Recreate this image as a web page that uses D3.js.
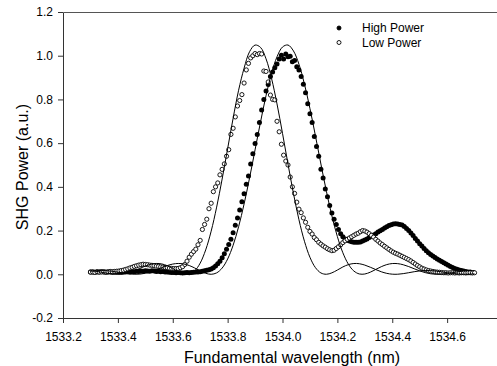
<!DOCTYPE html>
<html>
<head>
<meta charset="utf-8">
<script src="https://cdn.jsdelivr.net/npm/d3@7"></script>
<style>
  body { margin: 0; background: #fff; }
  svg text { font-family: "Liberation Sans", Arial, sans-serif; fill: #000; }
</style>
</head>
<body>
<div id="chart"></div>
<script>
// measured scan: 1533.300 nm onward, 0.008 nm per point
const scanStart = 1533.30, scanStep = 0.008;
// fitted curves sampled every 0.02 nm from 1533.30
const fitStart = 1533.30, fitStep = 0.02;

const highPower = [
  .011,.010,.009,.011,.010,.012,.010,.009,.011,.010,
  .009,.010,.011,.010,.009,.011,.010,.012,.011,.013,
  .012,.014,.013,.015,.014,.016,.015,.014,.016,.015,
  .013,.014,.012,.013,.011,.010,.009,.008,.008,.007,
  .008,.007,.006,.007,.008,.007,.008,.009,.010,.011,
  .012,.014,.016,.018,.021,.024,.030,.038,.048,.060,
  .076,.094,.114,.136,.160,.190,.224,.257,.294,.332,
  .368,.412,.450,.505,.552,.598,.640,.695,.752,.800,
  .838,.868,.905,.925,.945,.962,.985,1.002,.985,1.008,
  .995,.998,.972,.978,.950,.935,.905,.870,.830,.780,
  .735,.695,.630,.585,.540,.480,.440,.390,.355,.315,
  .280,.252,.228,.205,.185,.172,.162,.156,.152,.149,
  .147,.146,.146,.148,.152,.157,.162,.168,.174,.180,
  .186,.193,.199,.205,.212,.218,.223,.227,.230,.231,
  .230,.228,.225,.219,.210,.200,.189,.177,.164,.152,
  .140,.129,.118,.108,.099,.091,.084,.077,.070,.064,
  .058,.053,.047,.041,.036,.031,.027,.023,.020,.017,
  .015,.013,.011,.010
];

const lowPower = [
  .010,.011,.009,.012,.010,.011,.012,.010,.011,.013,
  .012,.013,.014,.015,.017,.019,.022,.025,.029,.032,
  .036,.039,.042,.044,.046,.045,.044,.042,.041,.039,
  .037,.036,.034,.033,.031,.030,.028,.027,.026,.026,
  .027,.030,.035,.045,.060,.078,.092,.104,.115,.135,
  .155,.205,.228,.252,.300,.325,.378,.400,.418,.455,
  .480,.505,.540,.570,.640,.668,.720,.770,.795,.822,
  .875,.935,.965,.990,1.000,1.010,1.005,1.010,1.008,.930,
  .928,.880,.820,.800,.798,.700,.652,.595,.545,.518,
  .500,.445,.400,.370,.330,.298,.282,.258,.238,.215,
  .196,.184,.168,.158,.146,.138,.130,.124,.117,.112,
  .108,.110,.118,.126,.135,.145,.153,.160,.166,.172,
  .178,.184,.188,.195,.200,.198,.193,.186,.178,.170,
  .160,.152,.143,.136,.128,.121,.114,.107,.101,.096,
  .092,.087,.082,.077,.072,.067,.061,.054,.047,.040,
  .034,.028,.024,.020,.017,.015,.013,.011,.010,.009,
  .008,.007,.007,.006,.007,.007,.006,.007,.006,.007,
  .007,.006,.007,.007,.006,.007
];

const lowFit = [
  .0165,.0137,.0095,.0050,.0013,.0000,.0019,.0075,.0162,.0269,
  .0375,.0457,.0495,.0474,.0392,.0266,.0125,.0021,.0011,.0157,
  .0512,.1114,.1972,.3074,.4358,.5745,.7138,.8420,.9429,1.0184,
  1.0487,1.0379,.9857,.8965,.7795,.6449,.5045,.3695,.2494,.1512,
  .0779,.0305,.0061,.0001,.0066,.0195,.0336,.0442,.0493,.0483,
  .0420,.0323,.0216,.0116,.0043,.0005,.0003,.0030,.0072,.0118,
  .0154,.0172,.0169,.0147,.0112,.0072,.0036,.0011,.0000,.0004,
  .0020
];

const highFit = [
  .0142,.0165,.0173,.0163,.0136,.0097,.0055,.0019,.0001,.0008,
  .0046,.0113,.0204,.0304,.0398,.0467,.0495,.0473,.0401,.0288,
  .0158,.0047,.0000,.0064,.0284,.0698,.1328,.2176,.3217,.4411,
  .5692,.6974,.8174,.9189,.9951,1.0398,1.0489,1.0218,.9609,.8701,
  .7586,.6335,.5045,.3798,.2673,.1724,.0984,.0464,.0151,.0015,
  .0013,.0097,.0222,.0347,.0443,.0491,.0487,.0436,.0353,.0253,
  .0156,.0076,.0023,.0001,.0007,.0036,.0076,.0118,.0151,.0170,
  .0171
];

const xTicks = [1533.2, 1533.4, 1533.6, 1533.8, 1534.0, 1534.2, 1534.4, 1534.6];
const yTicks = [-0.2, 0.0, 0.2, 0.4, 0.6, 0.8, 1.0, 1.2];
const seriesNames = ['High Power', 'Low Power'];

const width = 497, height = 366;

const svg = d3.select('#chart')
  .append('svg')
  .attr('width', width)
  .attr('height', height);

const x = d3.scaleLinear().domain([1533.2, 1534.8]).range([63, 502]);
const y = d3.scaleLinear().domain([-0.2, 1.2]).range([318, 12]);

const scanPts = arr => arr.map((v, i) => [scanStart + i * scanStep, v]);
const fitPts = arr => arr.map((v, i) => [fitStart + i * fitStep, v]);

// frame: top edge
svg.append('line')
  .attr('x1', x(1533.2) + 0.5).attr('x2', x(1534.8))
  .attr('y1', y(1.2) + 0.5).attr('y2', y(1.2) + 0.5)
  .attr('stroke', '#555').attr('stroke-width', 1);

// axes
const xAxis = svg.append('g')
  .attr('transform', `translate(0,${y(-0.2)})`)
  .call(d3.axisBottom(x).tickValues(xTicks).tickSize(5).tickSizeOuter(0)
    .tickFormat(d => d.toFixed(1)));
xAxis.selectAll('text').attr('dy', null).attr('y', 23).style('font-size', '12px');

const yAxis = svg.append('g')
  .attr('transform', `translate(${x(1533.2)},0)`)
  .call(d3.axisLeft(y).tickValues(yTicks).tickSize(5).tickPadding(5).tickSizeOuter(0)
    .tickFormat(d => d.toFixed(1)));
yAxis.selectAll('text').style('font-size', '12px');

svg.selectAll('.domain, .tick line').attr('stroke', '#333');

// axis titles
svg.append('text')
  .attr('x', 292).attr('y', 362.5)
  .attr('text-anchor', 'middle')
  .style('font-size', '16px')
  .text('Fundamental wavelength (nm)');

svg.append('text')
  .attr('transform', 'rotate(-90)')
  .attr('x', -167).attr('y', 28)
  .attr('text-anchor', 'middle')
  .style('font-size', '16px')
  .text('SHG Power (a.u.)');

// data markers
svg.append('g').selectAll('circle')
  .data(scanPts(highPower))
  .enter().append('circle')
  .attr('cx', d => x(d[0]))
  .attr('cy', d => y(d[1]))
  .attr('r', 2.5)
  .attr('fill', '#000');

svg.append('g').selectAll('circle')
  .data(scanPts(lowPower))
  .enter().append('circle')
  .attr('cx', d => x(d[0]))
  .attr('cy', d => y(d[1]))
  .attr('r', 2.1)
  .attr('fill', '#fff')
  .attr('stroke', '#000')
  .attr('stroke-width', 0.9);

// fitted curves
const line = d3.line()
  .x(d => x(d[0]))
  .y(d => y(d[1]))
  .curve(d3.curveCatmullRom);

[lowFit, highFit].forEach(fit => {
  svg.append('path')
    .datum(fitPts(fit))
    .attr('d', line)
    .attr('fill', 'none')
    .attr('stroke', '#000')
    .attr('stroke-width', 1);
});

// legend
const legend = svg.append('g').attr('transform', 'translate(339,28)');

legend.selectAll('circle')
  .data(seriesNames)
  .enter().append('circle')
  .attr('cx', 0)
  .attr('cy', (d, i) => i * 14.5)
  .attr('r', 2)
  .attr('fill', (d, i) => i === 0 ? '#000' : '#fff')
  .attr('stroke', '#000')
  .attr('stroke-width', 0.9);

legend.selectAll('text')
  .data(seriesNames)
  .enter().append('text')
  .attr('x', 23)
  .attr('y', (d, i) => i * 14.5 + 4.3)
  .style('font-size', '12px')
  .text(d => d);
</script>
</body>
</html>
